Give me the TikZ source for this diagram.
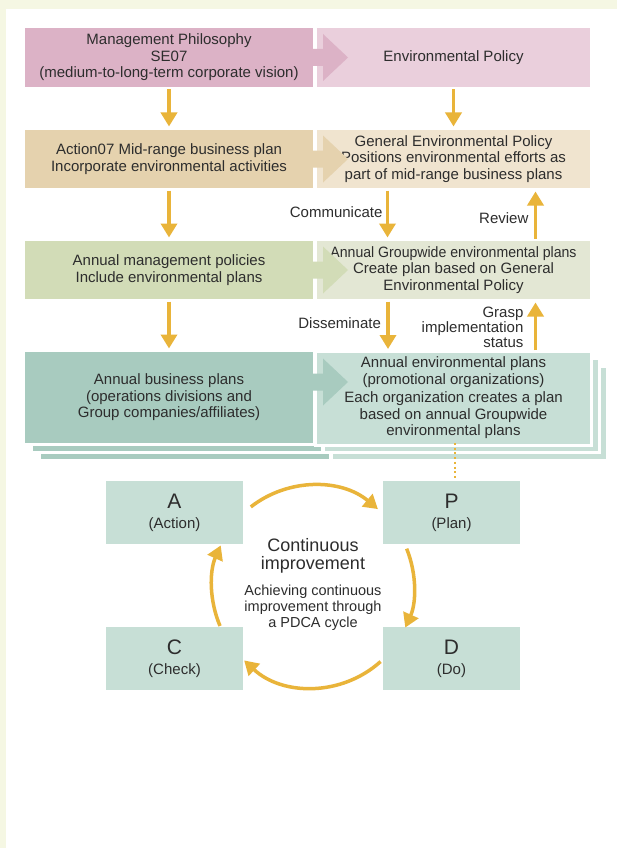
\documentclass[tikz,border=0pt]{standalone}
\usepackage{fontspec}
\setmainfont{Liberation Sans}
\usetikzlibrary{arrows.meta}

\definecolor{cream}{RGB}{245,247,227}
\definecolor{mgtL}{RGB}{220,178,198}
\definecolor{mgtR}{RGB}{234,207,220}
\definecolor{actL}{RGB}{229,210,174}
\definecolor{actR}{RGB}{240,228,207}
\definecolor{annL}{RGB}{210,220,183}
\definecolor{annR}{RGB}{227,231,212}
\definecolor{busL}{RGB}{168,203,191}
\definecolor{busR}{RGB}{199,223,214}
\definecolor{gold}{RGB}{233,180,58}
\definecolor{txt}{RGB}{45,45,45}

\begin{document}
\begin{tikzpicture}[
x=1pt,
y=-1pt,
box/.style={
  draw=white,
  line width=3pt,
  outer sep=0pt,
  inner sep=0pt,
  align=center,
  text=txt,
  font=\fontsize{15}{16.5}\selectfont
  },
lbox/.style={box, minimum width=291pt},
rbox/.style={box, minimum width=276pt},
link/.style={
  draw=gold,
  line width=3.5pt,
  -{Triangle[width=16pt,length=14pt]},
  shorten <=1pt,
  shorten >=2pt
  },
tag/.style={
  text=txt,
  align=right,
  font=\fontsize{15}{15}\selectfont
  },
pdca/.style={
  fill=busR,
  minimum width=137pt,
  minimum height=63pt,
  inner sep=0pt,
  align=center,
  text=txt,
  font=\fontsize{15}{20}\selectfont
  },
cyc/.style={
  draw=gold,
  line width=3.5pt,
  -{Triangle[width=16pt,length=14pt]}
  }
]
\useasboundingbox (0,0) rectangle (617,848);
\fill[cream] (0,0) rectangle (617,848);
\fill[white] (6,9) rectangle (617,848);

% sheets stacked behind the last row
\foreach \d in {16,8}
{
  \filldraw[fill=busL, draw=white, line width=3pt] (23.5+\d,350.5+\d) rectangle ++(291,94);
  \filldraw[fill=busR, draw=white, line width=3pt] (315.5+\d,350.5+\d) rectangle ++(276,94);
}

% rows
\node[lbox, fill=mgtL, minimum height=62pt] (mgt) at (169,57.5)
  {Management Philosophy\\SE07\\(medium-to-long-term corporate vision)};
\node[rbox, fill=mgtR, minimum height=62pt] (envpol) at (453.5,57.5)
  {Environmental Policy};
\node[lbox, fill=actL, minimum height=61pt] (act) at (169,159)
  {Action07 Mid-range business plan\\Incorporate environmental activities};
\node[rbox, fill=actR, minimum height=61pt] (genpol) at (453.5,159)
  {General Environmental Policy\\Positions environmental efforts as\\part of mid-range business plans};
\node[lbox, fill=annL, minimum height=61pt] (annmgt) at (169,270)
  {Annual management policies\\Include environmental plans};
\node[rbox, fill=annR, minimum height=61pt] (grppl) at (453.5,270)
  {\scalebox{0.94}[1]{Annual Groupwide environmental plans}\\Create plan based on General\\Environmental Policy};
\node[lbox, fill=busL, minimum height=94pt] (annbus) at (169,397.5)
  {Annual business plans\\(operations divisions and\\Group companies/affiliates)};
\node[rbox, fill=busR, minimum height=94pt] (orgpl) at (453.5,398)
  {Annual environmental plans\\(promotional organizations)\\[2pt]Each organization creates a plan\\based on annual Groupwide\\environmental plans};

% block arrows from left to right
\foreach \n/\c/\s in {mgt/mgtL/0pt, act/actL/0pt, annmgt/annL/0pt, annbus/busL/15.5pt}
  \fill[\c] ([yshift=\s]\n.east) ++(-1.5,-8.5) -- ++(10,0) -- ++(0,-15) -- ++(25,23.5)
    -- ++(-25,23.5) -- ++(0,-15) -- ++(-10,0) -- cycle;

\draw[link] (mgt.south) -- (act.north);
\draw[link] (act.south) -- (annmgt.north);
\draw[link] (annmgt.south) -- (annbus.north);
\draw[link] (envpol.south) -- (genpol.north);

\draw[link] ([xshift=72pt]genpol.south west) -- node[tag, left, pos=0.45] {Communicate} ([xshift=72pt]grppl.north west);
\draw[link] ([xshift=220pt]grppl.north west) -- node[tag, left=2pt, pos=0.42] {Review} ([xshift=220pt]genpol.south west);
\draw[link] ([xshift=72.5pt]grppl.south west) -- node[tag, left=2pt, pos=0.45] {Disseminate} ([xshift=72.5pt]orgpl.north west);
\draw[link] ([xshift=220pt]orgpl.north west) -- node[tag, left=7pt, pos=0.47] {Grasp\\implementation\\status} ([xshift=220pt]grppl.south west);

% PDCA
\node[pdca] (A) at (174.5,512.5) {{\fontsize{21}{21}\selectfont A}\\(Action)};
\node[pdca] (P) at (451.5,512.5) {{\fontsize{21}{21}\selectfont P}\\(Plan)};
\node[pdca] (C) at (174.5,658.5) {{\fontsize{21}{21}\selectfont C}\\(Check)};
\node[pdca] (D) at (451.5,658.5) {{\fontsize{21}{21}\selectfont D}\\(Do)};

\draw[gold, line width=2pt, dash pattern=on 2pt off 2.7pt, shorten >=3pt]
  ([xshift=1.5pt,yshift=2pt]orgpl.south) -- ([xshift=1.5pt]orgpl.south |- P.north);

\coordinate (hub) at (313,586.5);
\draw[cyc] ([shift={(128:101pt)}]hub) arc[start angle=128, end angle=50, radius=101pt];
\draw[cyc] ([shift={(22:101pt)}]hub) arc[start angle=22, end angle=-24, radius=101pt];
\draw[cyc] ([shift={(-48:101pt)}]hub) arc[start angle=-48, end angle=-133, radius=101pt];
\draw[cyc] ([shift={(203:101pt)}]hub) arc[start angle=203, end angle=156, radius=101pt];

\node[text=txt, align=center, font=\fontsize{18}{18}\selectfont] (goal) at (313,556) {Continuous\\improvement};
\node[text=txt, align=center, font=\fontsize{14.5}{16}\selectfont] (how) at (313,608) {Achieving continuous\\improvement through\\a PDCA cycle};
\end{tikzpicture}
\end{document}
